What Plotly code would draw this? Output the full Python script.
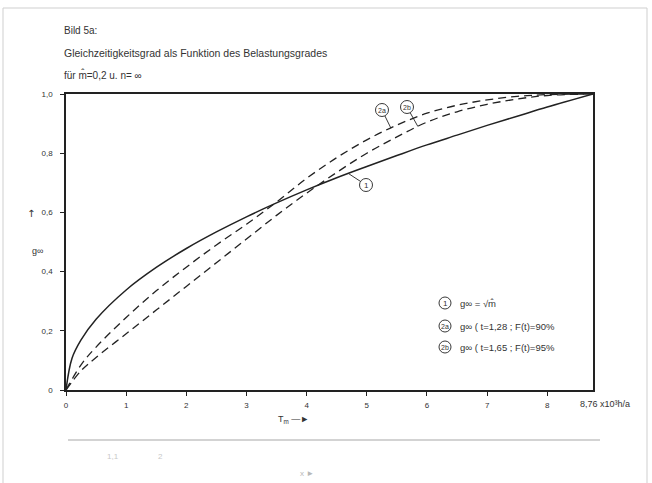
import math
import plotly.graph_objects as go

# ---- data ----
x_vals = [0, 0.1, 0.25, 0.5, 1, 1.5, 2, 2.5, 3, 3.5, 4, 4.5, 5, 5.5, 6, 6.5, 7, 7.5, 8, 8.76]
g1 = [0, 0.107, 0.169, 0.239, 0.338, 0.414, 0.478, 0.534, 0.585, 0.632, 0.676, 0.717,
      0.755, 0.792, 0.828, 0.861, 0.894, 0.925, 0.956, 1.0]

x_dash = [0, 0.25, 0.5, 1, 1.5, 2, 2.5, 3, 3.5, 4, 4.5, 5, 5.5, 6, 6.5, 7, 7.5, 8, 8.76]
g2a = [0, 0.085, 0.145, 0.245, 0.335, 0.415, 0.49, 0.56, 0.635, 0.715, 0.785, 0.845,
       0.895, 0.935, 0.962, 0.98, 0.992, 0.998, 1.0]
g2b = [0, 0.065, 0.11, 0.19, 0.27, 0.35, 0.43, 0.51, 0.59, 0.665, 0.735, 0.80,
       0.855, 0.905, 0.94, 0.965, 0.983, 0.995, 1.0]

x_tickvals = [0, 1, 2, 3, 4, 5, 6, 7, 8]
x_ticktext = ["0", "1", "2", "3", "4", "5", "6", "7", "8"]
x_end_label = "8,76 x10³h/a"
y_tickvals = [0, 0.2, 0.4, 0.6, 0.8, 1.0]
y_ticktext = ["0", "0,2", "0,4", "0,6", "0,8", "1,0"]

title_lines = ["Bild 5a:",
               "Gleichzeitigkeitsgrad als Funktion des Belastungsgrades",
               "für m̂=0,2 u. n= ∞"]
legend_tags = ["1", "2a", "2b"]
legend_texts = ["g∞ = √m̂",
                "g∞ ( t=1,28 ; F(t)=90%",
                "g∞ ( t=1,65 ; F(t)=95%"]

# ---- layout geometry ----
W, H = 652, 483
L, R, T, B = 66, 59, 94, 93
PW, PH = W - L - R, H - T - B
XMAX = 8.76

def px(xp):
    return (xp - L) / PW

def py(yp):
    return (H - B - yp) / PH

INK = "#222222"
TXT = "#333333"
FONT = "Liberation Sans, Arial, sans-serif"

fig = go.Figure()
fig.add_trace(go.Scatter(x=x_vals, y=g1, mode="lines", line=dict(color=INK, width=1.5, shape="spline"),
                         name="1", showlegend=False, hoverinfo="skip"))
fig.add_trace(go.Scatter(x=x_dash, y=g2a, mode="lines",
                         line=dict(color=INK, width=1.3, dash="8px,5px", shape="spline"),
                         name="2a", showlegend=False, hoverinfo="skip"))
fig.add_trace(go.Scatter(x=x_dash, y=g2b, mode="lines",
                         line=dict(color=INK, width=1.3, dash="8px,5px", shape="spline"),
                         name="2b", showlegend=False, hoverinfo="skip"))

shapes = []
annotations = []


def text_at(t, xp, yp, size=9, color=TXT, xanchor="center", family=FONT):
    annotations.append(dict(text=t, xref="paper", yref="paper", x=px(xp), y=py(yp), xanchor=xanchor,
                            yanchor="middle", showarrow=False, font=dict(family=family, size=size, color=color)))


# outer scan frame and faint line below
shapes.append(dict(type="rect", xref="paper", yref="paper", x0=px(3), x1=px(647), y0=py(500), y1=py(8),
                   line=dict(color="#cfcfcf", width=1)))
shapes.append(dict(type="line", xref="paper", yref="paper", x0=px(68), x1=px(600), y0=py(440), y1=py(440),
                   line=dict(color="#c4c4c4", width=1.5)))

# title lines
for t, yy, sz in zip(title_lines, [30, 53, 75], [10, 10.5, 10]):
    text_at(t, 62, yy, size=sz, xanchor="left")

# end label of x axis
annotations.append(dict(text=x_end_label, xref="x", yref="paper", x=XMAX, y=py(404), xanchor="left",
                        xshift=-15, yanchor="middle", showarrow=False,
                        font=dict(family=FONT, size=9, color=TXT)))
# axis titles
text_at("T<sub>m</sub> —►", 293, 419, size=9)
text_at("↑", 31, 213, size=10, family="DejaVu Sans")
text_at("g∞", 37, 251, size=9)

# curve labels: (tag, label center px, curve point data)
curve_labels = [
    ("1", (366, 185), (4.69, 0.732)),
    ("2a", (382, 110), (5.40, 0.885)),
    ("2b", (407, 107), (5.85, 0.890)),
]
for tag, (cx, cy), (ptx, pty) in curve_labels:
    shapes.append(dict(type="circle", xref="paper", yref="paper", xsizemode="pixel", ysizemode="pixel",
                       xanchor=px(cx), yanchor=py(cy), x0=-6.5, x1=6.5, y0=-6.5, y1=6.5,
                       line=dict(color=INK, width=0.9)))
    text_at(tag, cx, cy, size=7 if len(tag) > 1 else 8)
    # leader line from circle edge to the curve
    tx = L + ptx * PW / XMAX
    ty = H - B - pty * PH
    d = math.hypot(tx - cx, ty - cy)
    sx = cx + (tx - cx) * 6.5 / d
    sy = cy + (ty - cy) * 6.5 / d
    shapes.append(dict(type="line", xref="paper", yref="paper", x0=px(sx), y0=py(sy), x1=px(tx), y1=py(ty),
                       line=dict(color=INK, width=0.9)))

# legend block
for tag, txt, yy in zip(legend_tags, legend_texts, [303, 326, 347]):
    shapes.append(dict(type="circle", xref="paper", yref="paper", xsizemode="pixel", ysizemode="pixel",
                       xanchor=px(445), yanchor=py(yy), x0=-6, x1=6, y0=-6, y1=6,
                       line=dict(color=INK, width=0.9)))
    text_at(tag, 445, yy, size=7 if len(tag) > 1 else 8)
    text_at(txt, 458, yy, size=9.5, xanchor="left")

# faint scan remnants below
text_at("1,1", 113, 456, size=8, color="#c8c8c8")
text_at("2", 160, 456, size=8, color="#c8c8c8")
text_at("x ►", 307, 473, size=8, color="#b8b8b8")

fig.update_layout(
    width=W, height=H,
    margin=dict(l=L, r=R, t=T, b=B, pad=0),
    paper_bgcolor="white", plot_bgcolor="white",
    shapes=shapes, annotations=annotations,
    xaxis=dict(range=[0, XMAX], tickvals=x_tickvals, ticktext=x_ticktext, showgrid=False, zeroline=False,
               showline=True, linecolor=INK, linewidth=1.5, mirror=True, ticks="outside", ticklen=4,
               tickcolor=INK, tickwidth=1, ticklabelstandoff=3,
               tickfont=dict(family=FONT, size=8, color=TXT)),
    yaxis=dict(range=[0, 1.0], tickvals=y_tickvals, ticktext=y_ticktext, showgrid=False, zeroline=False,
               showline=True, linecolor=INK, linewidth=1.5, mirror=True, ticks="outside", ticklen=4,
               tickcolor=INK, tickwidth=1, ticklabelstandoff=6,
               tickfont=dict(family=FONT, size=8, color=TXT)),
)

fig.write_html("out.html")
